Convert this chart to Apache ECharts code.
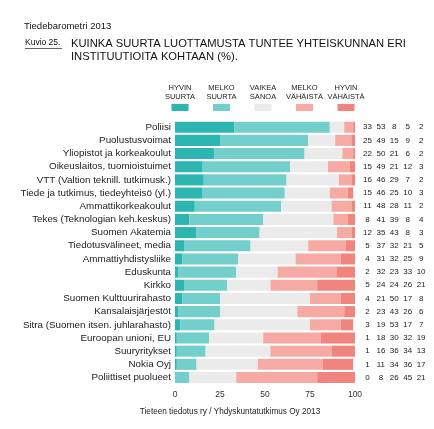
<!DOCTYPE html>
<html><head><meta charset="utf-8">
<script src="https://cdn.jsdelivr.net/npm/echarts@6/dist/echarts.min.js"></script>
<style>html,body{margin:0;padding:0;background:#fff}#c{width:434px;height:429px}</style>
</head><body><div id="c"></div>
<script>
const categories = ["Poliisi","Puolustusvoimat","Yliopistot ja korkeakoulut","Oikeuslaitos, tuomioistuimet","VTT (Valtion teknill. tutkimusk.)","Tiede ja tutkimus, tiedeyhteisö (yl.)","Ammattikorkeakoulut","Tekes (Teknologian keh.keskus)","Suomen Akatemia","Tiedotusvälineet, media","Ammattiyhdistysliike","Eduskunta","Kirkko","Suomen Kulttuurirahasto","Kansalaisjärjestöt","Sitra (Suomen itsen. juhlarahasto)","Euroopan unioni, EU","Suuryritykset","Nokia Oyj","Poliittiset puolueet"];
const seriesNames = ["HYVIN\nSUURTA","MELKO\nSUURTA","VAIKEA\nSANOA","MELKO\nVÄHÄISTÄ","HYVIN\nVÄHÄISTÄ"];
const hyvinSuurta   = [33,25,22,15,16,15,11,8,12,5,4,2,5,4,2,3,1,1,1,0];
const melkoSuurta   = [53,49,50,49,46,46,48,41,35,37,31,32,24,21,23,19,18,16,11,8];
const vaikeaSanoa   = [8,15,21,21,29,25,28,39,43,32,32,23,24,50,43,53,30,36,34,26];
const melkoVahaista = [5,9,6,12,7,10,11,8,8,21,25,33,26,17,26,17,32,34,36,45];
const hyvinVahaista = [2,2,2,3,2,3,2,4,3,5,9,10,21,8,6,7,19,13,17,21];
const xTicks = [0,25,50,75,100];
const colors = ["#2db6b1","#72cfcb","#ebebeb","#f7a9a3","#f1847e"];
const values = [hyvinSuurta, melkoSuurta, vaikeaSanoa, melkoVahaista, hyvinVahaista];

const chart = echarts.init(document.getElementById('c'));
const FONT = '"Liberation Sans", Arial, sans-serif';
const legendCenters = [180, 221.5, 263, 304.5, 346];

const rich = {};
['a','b','c','d','e'].forEach(k => rich[k] = {width: 13.4, align: 'center', fontSize: 8, fontFamily: FONT, color: '#222'});

chart.setOption({
  animation: false,
  color: colors,
  grid: {left: 175, right: 79, top: 120.6, height: 263.5},
  legend: seriesNames.map((n, i) => ({
    data: [n], left: legendCenters[i] - 8.5, top: 104, itemWidth: 17, itemHeight: 7,
    padding: 0, itemGap: 0, formatter: () => '', selectedMode: false, icon: 'rect',
    itemStyle: {borderWidth: 0}
  })),
  xAxis: {type: 'value', min: xTicks[0], max: xTicks[xTicks.length - 1], interval: 25,
    axisLine: {show: false}, axisTick: {show: false}, splitLine: {show: false},
    axisLabel: {fontSize: 8.5, fontFamily: FONT, color: '#333', margin: 6}},
  yAxis: [
    {type: 'category', data: categories, inverse: true,
      axisLine: {show: false}, axisTick: {show: false},
      axisLabel: {interval: 0, fontSize: 9.8, fontFamily: FONT, color: '#222', margin: 4}},
    {type: 'category', data: categories, inverse: true, position: 'right',
      axisLine: {show: false}, axisTick: {show: false},
      axisLabel: {interval: 0, margin: 5.8, rich: rich,
        formatter: (v, i) => ['a','b','c','d','e'].map((k, j) => '{' + k + '|' + values[j][i] + '}').join('')}}
  ],
  graphic: [
    {type: 'text', left: 24, top: 21, style: {text: 'Tiedebarometri 2013', font: '9.5px ' + FONT, fill: '#111'}},
    {type: 'text', left: 25, top: 38, style: {text: 'Kuvio 25.', font: '8.5px ' + FONT, fill: '#111'}},
    {type: 'rect', left: 25, top: 48, shape: {width: 37, height: 0.8}, style: {fill: '#333'}},
    {type: 'text', left: 71, top: 37, style: {text: 'KUINKA SUURTA LUOTTAMUSTA TUNTEE YHTEISKUNNAN ERI\nINSTITUUTIOITA KOHTAAN (%).', font: '11.2px ' + FONT, fill: '#111', lineHeight: 13.5}},
    ...seriesNames.map((n, i) => ({type: 'text', x: legendCenters[i], y: 83,
      style: {text: n, font: '7.5px ' + FONT, fill: '#222', align: 'center', lineHeight: 9.5}})),
    {type: 'text', x: 230, y: 408, style: {text: 'Tieteen tiedotus ry / Yhdyskuntatutkimus Oy 2013', font: '8.2px ' + FONT, fill: '#222', align: 'center'}}
  ],
  series: seriesNames.map((n, i) => ({
    name: n, type: 'bar', stack: 'total', barCategoryGap: '16%',
    data: values[i], itemStyle: {color: colors[i]}
  }))
});
</script></body></html>
